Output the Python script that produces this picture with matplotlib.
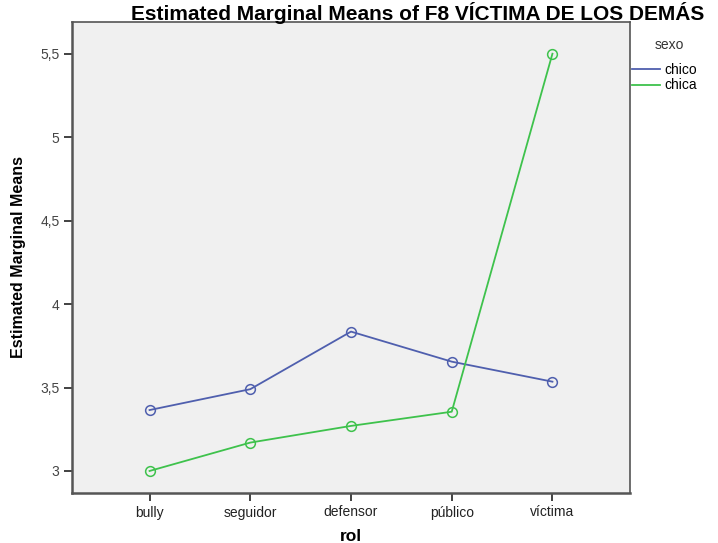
import matplotlib
matplotlib.use("Agg")
import matplotlib.pyplot as plt
from matplotlib.lines import Line2D

categories = ["bully", "seguidor", "defensor", "público", "víctima"]
chico = [3.365, 3.49, 3.835, 3.655, 3.535]
chica = [3.0, 3.17, 3.27, 3.355, 5.5]
yticks = [3, 3.5, 4, 4.5, 5, 5.5]
ytick_labels = ["3", "3,5", "4", "4,5", "5", "5,5"]

plt.rcParams['font.family'] = ['Liberation Sans', 'DejaVu Sans']

fig = plt.figure(figsize=(7.18, 5.43), dpi=100)
ax = fig.add_axes([72/718, 50/543, 558/718, 471/543])
ax.set_facecolor('#f0f0f0')

blue = '#4f5fae'
green = '#3ec24c'
x = list(range(len(categories)))
ax.plot(x, chico, color=blue, lw=1.3, marker='o', ms=7, mfc='none', mew=1.1, zorder=3)
ax.plot(x, chica, color=green, lw=1.3, marker='o', ms=7, mfc='none', mew=1.1, zorder=3)

ax.set_xlim(-0.77, 4.77)
ax.set_ylim(2.868, 5.69)
ax.set_xticks(x)
ax.set_xticklabels(categories, fontsize=10, color='#222222')
ax.set_yticks(yticks)
ax.set_yticklabels(ytick_labels, fontsize=10, color='#444444')
ax.tick_params(axis='both', direction='out', length=6, width=1.3, color='#333333', pad=3)

for s in ['left', 'bottom']:
    ax.spines[s].set_color('#555555')
    ax.spines[s].set_linewidth(1.8)
for s in ['top', 'right']:
    ax.spines[s].set_color('#555555')
    ax.spines[s].set_linewidth(1.2)

ax.set_xlabel("rol", fontsize=12.5, fontweight='bold', labelpad=7)
ax.set_ylabel("Estimated Marginal Means", fontsize=11.5, fontweight='bold', labelpad=10)

fig.text(0.582, 1 - 20/543, "Estimated Marginal Means of F8 VÍCTIMA DE LOS DEMÁS",
         ha='center', va='baseline', fontsize=15, fontweight='bold')

# legend outside to the right
fig.text(655/718, 1 - 45/543, "sexo", fontsize=10, color='#333333', va='center', ha='left')
handles = [Line2D([0], [0], color=blue, lw=1.3), Line2D([0], [0], color=green, lw=1.3)]
fig.legend(handles, ["chico", "chica"], loc='upper left', bbox_to_anchor=(632/718, 1 - 63/543),
           frameon=False, fontsize=10, handlelength=2.0, handletextpad=0.3,
           labelspacing=0.1, borderpad=0, borderaxespad=0)

fig.savefig("out.png", dpi=100)
